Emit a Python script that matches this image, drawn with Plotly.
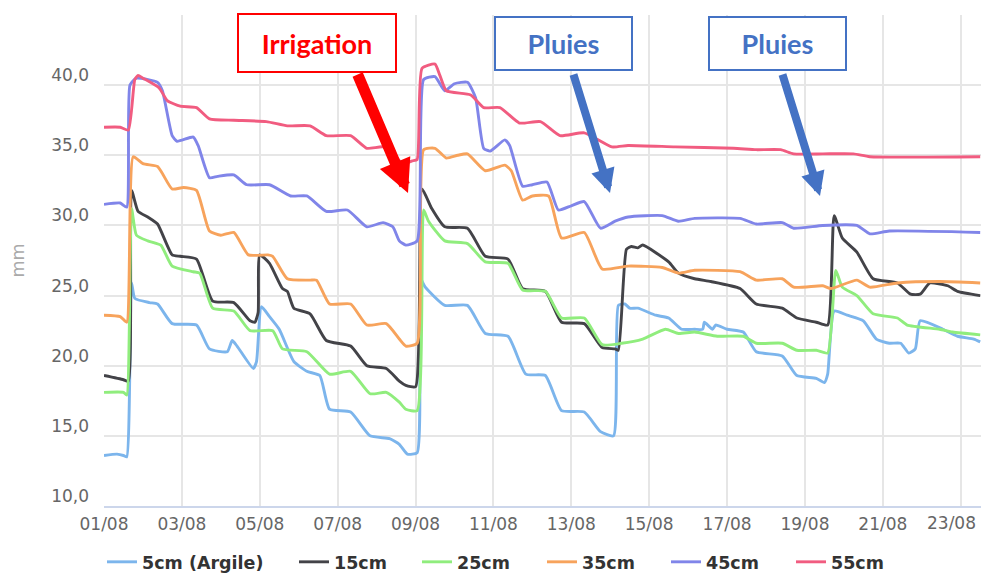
import pandas as pd
import plotly.graph_objects as go

# ---------------- data (hours since 01/08 00:00, mm) ----------------
start_date = "2021-08-01"

h_5 = [0, 8, 12, 14, 17, 19, 28, 33, 42, 57, 65, 76, 79, 82, 92, 94, 97, 102, 108, 117, 125, 133, 139, 152, 164, 176, 182, 187, 193,
       195, 198, 210, 224, 235, 249, 260, 272, 282, 296, 306, 314, 317, 321, 324, 329, 340, 348, 356, 364, 369, 370, 375, 377, 384,
       394, 402, 418, 427, 439, 444, 446, 450, 458, 468, 476, 484, 491, 496, 500, 503, 517, 526, 536, 540]
v_5 = [13.6, 13.7, 13.6, 13.5, 25.9, 24.8, 24.5, 24.4, 23.0, 22.9, 21.2, 21.0, 21.8, 21.4, 19.8, 20.3, 24.2, 23.5, 22.6, 20.3, 19.6,
       19.3, 16.9, 16.7, 15.0, 14.8, 14.4, 13.7, 13.8,
       26.2, 25.6, 24.3, 24.3, 22.3, 22.1, 19.4, 19.3, 16.8, 16.7, 15.3, 15.0, 24.3, 24.4, 24.1, 24.1, 23.6, 23.4, 22.6, 22.6, 22.6,
       23.1, 22.6, 22.9, 22.6, 22.4, 21.0, 20.7, 19.3, 19.1, 18.8, 19.4, 23.9, 23.6, 23.2, 21.9, 21.6, 21.6, 20.9, 21.2, 23.2, 22.6,
       22.1, 21.9, 21.7]

h_15 = [0, 12, 15, 17, 21, 27, 33, 42, 47, 57, 67, 80, 90, 93, 95, 96, 102, 110, 113, 117, 127, 137, 152, 162, 174, 182, 186, 192,
        196, 202, 210, 224, 235, 249, 258, 272, 282, 296, 307, 315, 317, 322, 325, 329, 332, 348, 354, 364, 374, 392, 402, 418, 427,
        439, 446, 450, 455, 464, 474, 489, 497, 503, 509, 520, 526, 540]
v_15 = [19.3, 19.0, 18.9, 32.5, 31.0, 30.6, 30.1, 27.9, 27.8, 27.6, 24.6, 24.5, 23.2, 23.1, 23.8, 27.9, 27.3, 25.5, 25.3, 24.1, 23.7,
        21.8, 21.4, 20.0, 19.8, 18.9, 18.6, 18.5,
        32.6, 31.2, 29.9, 29.8, 27.8, 27.6, 25.5, 25.3, 23.1, 23.0, 21.3, 21.2, 21.1, 28.3, 28.5, 28.4, 28.6, 27.4, 26.6, 26.2, 26.0,
        25.5, 24.4, 24.1, 23.4, 23.1, 22.9, 30.7, 29.1, 28.1, 26.2, 25.9, 25.1, 25.1, 25.9, 25.7, 25.3, 25.0]

h_25 = [0, 12, 14, 17, 20, 27, 35, 42, 55, 59, 67, 80, 90, 104, 110, 125, 139, 152, 164, 174, 182, 186, 193,
        197, 200, 210, 224, 235, 249, 258, 272, 282, 296, 307, 319, 332, 346, 354, 364, 378, 394, 402, 418, 427, 439, 446,
        451, 455, 464, 474, 489, 495, 515, 523, 540]
v_25 = [18.1, 18.1, 17.9, 31.2, 29.3, 28.9, 28.6, 27.1, 26.7, 26.6, 24.1, 23.9, 22.5, 22.5, 21.2, 21.0, 19.4, 19.6, 18.0, 18.1, 17.4,
        16.9, 16.8,
        31.1, 30.3, 28.9, 28.7, 27.4, 27.3, 25.4, 25.3, 23.4, 23.4, 21.5, 21.6, 21.9, 22.6, 22.3, 22.4, 22.1, 22.1, 21.6, 21.6, 21.1,
        21.1, 20.9, 26.8, 25.6, 25.0, 23.7, 23.4, 22.9, 22.6, 22.4, 22.2]

h_35 = [0, 10, 14, 18, 24, 33, 36, 42, 49, 57, 65, 72, 80, 89, 101, 104, 113, 127, 131, 139, 152, 162, 174, 182, 186, 193,
        197, 204, 211, 218, 224, 235, 247, 251, 258, 264, 274, 282, 296, 307, 323, 344, 354, 364, 392, 402, 418, 425, 443, 448,
        464, 472, 489, 515, 540]
v_35 = [23.6, 23.5, 23.1, 34.9, 34.4, 34.2, 33.7, 32.6, 32.7, 32.5, 29.6, 29.3, 29.5, 27.9, 27.9, 27.8, 26.2, 26.1, 26.1, 24.4, 24.4,
        22.9, 23.0, 21.9, 21.4, 21.6,
        35.4, 35.5, 34.8, 35.0, 35.1, 33.9, 34.3, 33.9, 31.8, 32.1, 32.1, 29.1, 29.5, 26.9, 27.1, 27.0, 26.6, 26.8, 26.7, 26.1, 26.2,
        25.6, 25.7, 25.5, 26.1, 25.6, 25.9, 26.0, 25.9]

h_45 = [0, 10, 14, 16, 20, 33, 36, 42, 45, 55, 58, 65, 70, 80, 88, 102, 115, 125, 137, 150, 162, 172, 178, 182, 186, 193,
        197, 204, 210, 216, 224, 229, 234, 238, 247, 250, 258, 264, 273, 280, 288, 296, 306, 315, 323, 344, 354, 364, 392, 402,
        418, 425, 443, 464, 472, 484, 540]
v_45 = [31.5, 31.6, 31.3, 40.0, 40.5, 40.2, 39.6, 36.4, 36.0, 36.3, 35.7, 33.4, 33.5, 33.6, 32.9, 32.9, 32.1, 32.1, 31.0, 31.1, 29.9,
        30.2, 29.9, 28.9, 28.6, 28.9,
        40.4, 40.6, 39.6, 40.1, 40.2, 39.1, 35.5, 35.3, 36.1, 35.7, 32.8, 32.9, 33.1, 31.1, 31.4, 31.7, 29.8, 30.3, 30.6, 30.7, 30.3,
        30.5, 30.5, 30.1, 30.2, 29.8, 30.0, 30.0, 29.4, 29.6, 29.5]

h_55 = [0, 10, 15, 19, 21, 24, 34, 39, 47, 57, 65, 80, 100, 113, 127, 137, 152, 162, 172, 179, 184, 190, 193,
        196, 204, 207, 211, 226, 234, 244, 256, 269, 281, 296, 313, 323, 352, 388, 402, 417, 425, 443, 462, 472, 540]
v_55 = [37.0, 37.0, 36.8, 40.4, 40.7, 40.5, 39.8, 38.9, 38.5, 38.4, 37.6, 37.5, 37.4, 37.1, 37.1, 36.4, 36.4, 35.5, 35.6, 35.0, 34.4,
        34.6, 34.7,
        41.2, 41.5, 40.7, 39.6, 39.3, 38.4, 38.4, 37.3, 37.4, 36.4, 36.6, 35.6, 35.7, 35.6, 35.5, 35.4, 35.4, 35.1, 35.1, 35.1, 34.9,
        34.9]

series_names = ["5cm (Argile)", "15cm", "25cm", "35cm", "45cm", "55cm"]
series_hours = [h_5, h_15, h_25, h_35, h_45, h_55]
series_values = [v_5, v_15, v_25, v_35, v_45, v_55]
series_colors = ["#7cb5ec", "#434348", "#90ed7d", "#f7a35c", "#8085e9", "#f15c80"]

y_tickvals = [10, 15, 20, 25, 30, 35, 40, 45]
y_ticktext = ["10,0", "15,0", "20,0", "25,0", "30,0", "35,0", "40,0", ""]

x_tickvals = ["2021-08-01", "2021-08-03", "2021-08-05", "2021-08-07", "2021-08-09", "2021-08-11",
              "2021-08-13", "2021-08-15", "2021-08-17", "2021-08-19", "2021-08-21", "2021-08-23"]
x_ticktext = ["01/08", "03/08", "05/08", "07/08", "09/08", "11/08",
              "13/08", "15/08", "17/08", "19/08", "21/08", "23/08"]

# ---------------- figure ----------------
W, H = 981, 574
L, R, T, B = 104, 0, 15, 68
pw, ph = W - L - R, H - T - B

# left edge (px) of each legend entry's text in the bottom row
legend_text_x = [145, 337, 460, 585, 709, 834]

base = pd.Timestamp(start_date)
fig = go.Figure()
legend_layout = {}
for i, (name, hrs, vals, col) in enumerate(zip(series_names, series_hours, series_values, series_colors)):
    key = "legend" if i == 0 else f"legend{i + 1}"
    fig.add_trace(go.Scatter(
        x=base + pd.to_timedelta(hrs, unit="h"), y=vals, name=name, mode="lines",
        line=dict(color=col, width=2.9, shape="spline", smoothing=0.5), hoverinfo="skip", legend=key))
    legend_layout[key] = dict(
        orientation="h", xref="container", yref="container",
        x=(legend_text_x[i] - 43) / W, xanchor="left", y=0.021, yanchor="middle",
        font=dict(family="DejaVu Sans", size=17.5, color="#333333", weight="bold"),
        bgcolor="rgba(0,0,0,0)", borderwidth=0)


def px(x):
    return (x - L) / pw


def py(y):
    return (H - B - y) / ph


tick_font = dict(family="DejaVu Sans", size=17, color="#666666")
grid = "#e6e6e6"
fig.update_layout(
    width=W, height=H,
    margin=dict(l=L, r=R, t=T, b=B, autoexpand=False),
    paper_bgcolor="white", plot_bgcolor="white",
    font=dict(family="DejaVu Sans", color="#666666"),
    separators=", ",
    showlegend=True,
    xaxis=dict(type="date", range=[base, base + pd.Timedelta(hours=540.5)],
               tickvals=x_tickvals, ticktext=x_ticktext[:-1] + [""],
               showgrid=True, gridcolor=grid, gridwidth=1.5,
               showline=True, linecolor="#ccd6eb", linewidth=2,
               ticks="", ticklabelstandoff=2,
               tickfont=tick_font, zeroline=False),
    yaxis=dict(range=[10, 45], tickvals=y_tickvals, ticktext=y_ticktext,
               showgrid=True, gridcolor=grid, gridwidth=1.5, zeroline=False, showline=False,
               ticks="", ticklabelstandoff=14, ticklabelshift=-10,
               tickfont=tick_font,
               title=dict(text="mm", standoff=22, font=dict(family="DejaVu Sans", size=17.5, color="#aaaaaa"))),
    **legend_layout,
)

# last x label is pushed inside the chart edge (as in the original)
fig.add_annotation(x=x_tickvals[-1], y=py(523), xref="x", yref="paper", text=x_ticktext[-1],
                   showarrow=False, xanchor="center", yanchor="middle", xshift=-9, font=tick_font)

# arrows (head position in paper coords, tail offset in pixels)
arrows = [
    (408, 193, 357, 73, "#ff0000", 11),
    (610, 193, 573, 73, "#4472c4", 8),
    (820, 196, 782, 73, "#4472c4", 8),
]
for hx, hy, tx, ty, col, wd in arrows:
    fig.add_annotation(x=px(hx), y=py(hy), xref="paper", yref="paper", text="", showarrow=True,
                       ax=tx - hx, ay=ty - hy, axref="pixel", ayref="pixel",
                       arrowhead=2, arrowsize=0.6, arrowwidth=wd, arrowcolor=col, standoff=0)

# labelled boxes
boxes = [
    ("Irrigation", 317, 43, 160, 60, "#ff0000"),
    ("Pluies", 563.5, 43.5, 139, 55, "#4472c4"),
    ("Pluies", 777.5, 43.5, 139, 55, "#4472c4"),
]
for txt, cx, cy, bw, bh, col in boxes:
    fig.add_annotation(x=px(cx), y=py(cy), xref="paper", yref="paper", text="<b>" + txt + "</b>",
                       showarrow=False, xanchor="center", yanchor="middle",
                       width=bw - 4, height=bh - 4, borderpad=0, borderwidth=2, bordercolor=col,
                       bgcolor="white", font=dict(family="Lato", size=27, color=col))

fig.write_html("out.html", config={"displayModeBar": False},
               post_script="document.body.style.margin='0';document.body.style.padding='0';")
